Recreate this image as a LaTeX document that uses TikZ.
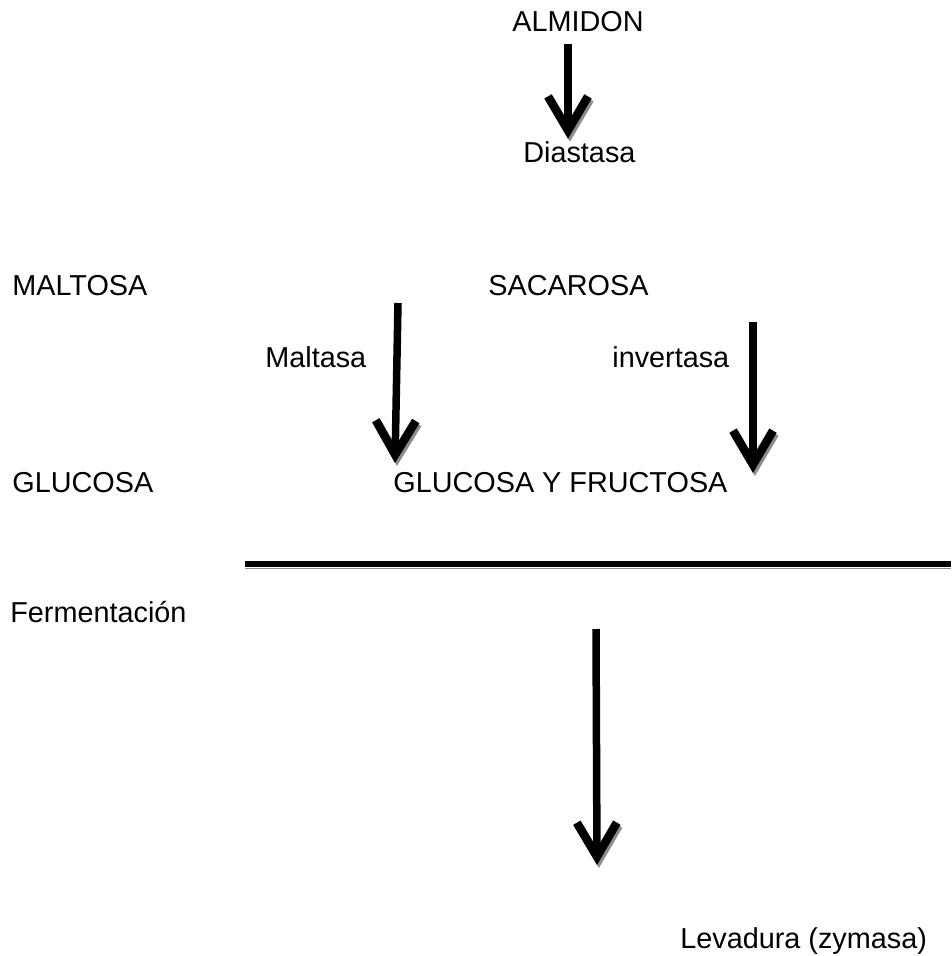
\documentclass[tikz,border=0pt]{standalone}
\usepackage{fontspec}
\setmainfont{Liberation Sans}
\usepackage{tikz}
\usetikzlibrary{arrows.meta,positioning,calc}
\usepackage{xcolor}
\definecolor{sombra}{gray}{0.55}
\newcommand{\textoflujo}{\fontsize{16.4}{20}\selectfont}

\begin{document}
\begin{tikzpicture}[
        x=0.02cm, y=-0.02cm,
        etiqueta/.style={inner sep=0pt,anchor=base west,font=\textoflujo},
        flecha/.style={line width=0.15cm,
            -{Straight Barb[length=0.68cm,width=0.8cm,line width=0.17cm]},
            preaction={draw=sombra,transform canvas={xshift=1.1pt,yshift=-1.7pt}}},
        barra/.style={line width=0.12cm,
            preaction={draw=sombra,transform canvas={yshift=-2.6pt}}}
    ]
        \useasboundingbox (0,0) rectangle (951,956);

        \node[etiqueta] (almidon) at (512,32) {ALMIDON};
        \node[etiqueta] (diastasa) at (523,163) {Diastasa};
        \node[etiqueta] (maltosa) at (12,295) {MALTOSA};
        \node[etiqueta] (sacarosa) at (488,295) {SACAROSA};
        \node[etiqueta] (maltasa) at (265,367) {Maltasa};
        \node[etiqueta] (invertasa) at (612,367) {invertasa};
        \node[etiqueta] (glucosa) at (12,492) {GLUCOSA};
        \node[etiqueta] (glufru) at (393,492) {GLUCOSA Y FRUCTOSA};
        \node[etiqueta] (fermentacion) at (10,622) {Fermentación};
        \node[etiqueta] (levadura) at (680,948) {Levadura (zymasa)};

        % extremos libres de las flechas
        \coordinate (m1) at (398,303);
        \coordinate (m2) at (395,463);
        \coordinate (i1) at (753,322);
        \coordinate (i2) at (753,473);
        \coordinate (f1) at (596,629);
        \coordinate (f2) at (597,865);
        \coordinate (b1) at (245,564);
        \coordinate (b2) at (951,564);

        \draw[flecha] ([xshift=-0.2cm,yshift=-0.22cm]almidon.south) -- ([xshift=-0.2cm,yshift=0.06cm]almidon.south |- diastasa.north);
        \draw[flecha] (m1) -- (m2);
        \draw[flecha] (i1) -- (i2);
        \draw[barra] (b1) -- (b2);
        \draw[flecha] (f1) -- (f2);
    \end{tikzpicture}
\end{document}
